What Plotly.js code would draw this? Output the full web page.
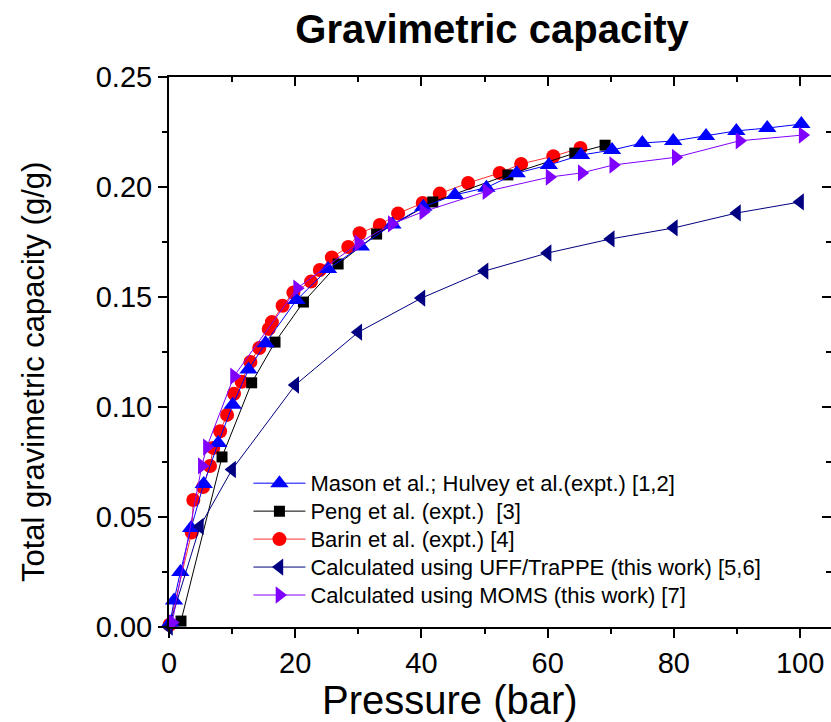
<!DOCTYPE html>
<html>
<head>
<meta charset="utf-8">
<script src="https://cdn.plot.ly/plotly-3.0.1.min.js"></script>
<style>
  html, body { margin: 0; padding: 0; background: #ffffff; }
  #chart { width: 831px; height: 722px; }
</style>
</head>
<body>
<div id="chart"></div>
<script>
// Hydrogen uptake isotherms: pressure (bar) vs total gravimetric capacity (g/g)

// Mason et al.; Hulvey et al. (expt.)
const masonP = [0.2, 0.8, 1.8, 3.5, 5.5, 7.8, 10.1, 12.6, 15.3, 20.2, 25.2, 30.4, 35.4, 40.3, 45.3, 50.3, 55.1, 60.2, 65.3, 70.2, 75.0, 79.9, 85.1, 89.9, 94.8, 100.2];
const masonV = [0.002, 0.012, 0.025, 0.045, 0.065, 0.0836, 0.101, 0.117, 0.129, 0.1486, 0.1627, 0.173, 0.183, 0.191, 0.1964, 0.1997, 0.2063, 0.21, 0.2145, 0.2168, 0.22, 0.2209, 0.2232, 0.2255, 0.2268, 0.2286];

// Peng et al. (expt.)
const pengP = [1.9, 8.4, 13.1, 16.8, 21.3, 26.8, 32.9, 41.8, 53.7, 64.3, 69.1];
const pengV = [0.0027, 0.0773, 0.111, 0.1295, 0.1477, 0.165, 0.1786, 0.1932, 0.2055, 0.2154, 0.219];

// Barin et al. (expt.)
const barinP = [0.1, 3.6, 3.85, 5.4, 6.5, 7.0, 8.1, 9.2, 10.3, 11.5, 12.9, 14.3, 15.8, 16.3, 18.0, 19.7, 22.5, 23.9, 25.8, 28.4, 30.2, 33.4, 36.3, 40.2, 42.9, 47.4, 52.4, 55.8, 60.9, 65.2];
const barinV = [0.001, 0.043, 0.0577, 0.0636, 0.0732, 0.0814, 0.089, 0.0964, 0.106, 0.1115, 0.1205, 0.1268, 0.1355, 0.1386, 0.146, 0.152, 0.157, 0.1623, 0.168, 0.1727, 0.179, 0.1827, 0.188, 0.1927, 0.197, 0.2018, 0.2064, 0.2105, 0.214, 0.2177];

// Calculated using UFF/TraPPE (this work)
const uffP = [0, 4.9, 10, 20, 30, 40, 50, 60, 70, 80, 90, 100];
const uffV = [0, 0.0457, 0.0716, 0.110, 0.134, 0.1495, 0.1618, 0.170, 0.1764, 0.1814, 0.1882, 0.1932];

// Calculated using MOMS (this work)
const momsP = [0.5, 5.2, 6.0, 10.3, 20.3, 30.0, 35.3, 40.3, 50.3, 60.3, 65.4, 70.4, 80.3, 90.4, 100.4];
const momsV = [0.002, 0.0732, 0.0818, 0.114, 0.154, 0.1745, 0.1832, 0.1888, 0.198, 0.2045, 0.2064, 0.21, 0.2135, 0.221, 0.2236];

// Legend labels
const names = {
  mason: 'Mason et al.; Hulvey et al.(expt.) [1,2]',
  peng: 'Peng et al. (expt.)  [3]',
  barin: 'Barin et al. (expt.) [4]',
  uff: 'Calculated using UFF/TraPPE (this work) [5,6]',
  moms: 'Calculated using MOMS (this work) [7]'
};

// Axis titles
const xTitle = 'Pressure (bar)';
const yTitle = 'Total gravimetric capacity (g/g)';

const FONT = 'Liberation Sans, Arial, Helvetica, sans-serif';

// legend rows sit close together; the label text is set larger than the row font
function legendLabel(s) {
  return '<span style="font-size:22px">' + s + '</span>';
}

function series(x, y, name, color, lineColor, symbol, size, rank) {
  return {
    x: x, y: y, name: legendLabel(name), type: 'scatter', mode: 'lines+markers',
    line: { color: lineColor, width: 1 },
    marker: { symbol: symbol, size: size, color: color, line: { width: 0 } },
    legendrank: rank, cliponaxis: false
  };
}

const traces = [
  series(barinP, barinV, names.barin, '#ff0000', '#ff3030', 'circle', 14, 3),
  series(pengP, pengV, names.peng, '#000000', '#000000', 'square', 11, 2),
  series(masonP, masonV, names.mason, '#0000ff', '#0000ff', 'triangle-up', 16, 1),
  series(uffP, uffV, names.uff, '#000080', '#000080', 'triangle-left', 15, 4),
  series(momsP, momsV, names.moms, '#8000ff', '#8000ff', 'triangle-right', 15, 5),
  // empty trace that carries the mirrored top/right frame axes
  { x: [], y: [], xaxis: 'x2', yaxis: 'y2', type: 'scatter', showlegend: false, hoverinfo: 'skip' }
];

const xRange = [0, 104.9];
const yRange = [0, 0.25];

const layout = {
  width: 831, height: 722,
  margin: { l: 169, r: 0, t: 77, b: 95 },
  paper_bgcolor: '#ffffff', plot_bgcolor: '#ffffff',
  font: { family: FONT, color: '#000000' },
  showlegend: true,
  title: {
    text: '<b>Gravimetric capacity</b>',
    font: { family: FONT, size: 40, color: '#000000' },
    xref: 'paper', x: 0.488, xanchor: 'center',
    yref: 'container', y: 0.96, yanchor: 'middle'
  },
  xaxis: {
    range: xRange, dtick: 20, tick0: 0,
    showgrid: false, zeroline: false,
    showline: true, linecolor: '#000000', linewidth: 2,
    ticks: 'outside', ticklen: 9, tickwidth: 2, tickcolor: '#000000',
    minor: { dtick: 10, ticks: 'outside', ticklen: 5, tickwidth: 2, tickcolor: '#000000' },
    tickfont: { family: FONT, size: 29 }
  },
  yaxis: {
    range: yRange, dtick: 0.05, tick0: 0, tickformat: '.2f',
    showgrid: false, zeroline: false,
    showline: true, linecolor: '#000000', linewidth: 2,
    ticks: 'outside', ticklen: 9, tickwidth: 2, tickcolor: '#000000',
    minor: { dtick: 0.025, ticks: 'outside', ticklen: 5, tickwidth: 2, tickcolor: '#000000' },
    tickfont: { family: FONT, size: 29 }
  },
  xaxis2: {
    range: xRange, dtick: 20, tick0: 0, overlaying: 'x', side: 'top', anchor: 'y2',
    showgrid: false, zeroline: false, showticklabels: false,
    showline: true, linecolor: '#000000', linewidth: 2,
    ticks: 'inside', ticklen: 9, tickwidth: 2, tickcolor: '#000000',
    minor: { dtick: 10, ticks: 'inside', ticklen: 5, tickwidth: 2, tickcolor: '#000000' }
  },
  yaxis2: {
    range: yRange, dtick: 0.05, tick0: 0, overlaying: 'y', side: 'right', anchor: 'x2',
    showgrid: false, zeroline: false, showticklabels: false,
    showline: true, linecolor: '#000000', linewidth: 2,
    ticks: 'inside', ticklen: 9, tickwidth: 2, tickcolor: '#000000',
    minor: { dtick: 0.025, ticks: 'inside', ticklen: 5, tickwidth: 2, tickcolor: '#000000' }
  },
  // axis titles placed as free text so they can sit off-centre
  annotations: [
    {
      text: xTitle, showarrow: false,
      xref: 'paper', x: 0.4245, xanchor: 'center',
      yref: 'paper', y: -0.1327, yanchor: 'middle',
      font: { family: FONT, size: 40, color: '#000000' }
    },
    {
      text: yTitle, showarrow: false, textangle: -90,
      xref: 'paper', x: -0.2054, xanchor: 'center',
      yref: 'paper', y: 0.4636, yanchor: 'middle',
      font: { family: FONT, size: 31, color: '#000000' }
    }
  ],
  legend: {
    x: 0.12, xanchor: 'left', y: 0.296, yanchor: 'top',
    bgcolor: 'rgba(0,0,0,0)', borderwidth: 0,
    font: { family: FONT, size: 19.2, color: '#000000' },
    itemwidth: 52, tracegroupgap: 0
  }
};

Plotly.newPlot('chart', traces, layout, { displayModeBar: false, staticPlot: true });
</script>
</body>
</html>
